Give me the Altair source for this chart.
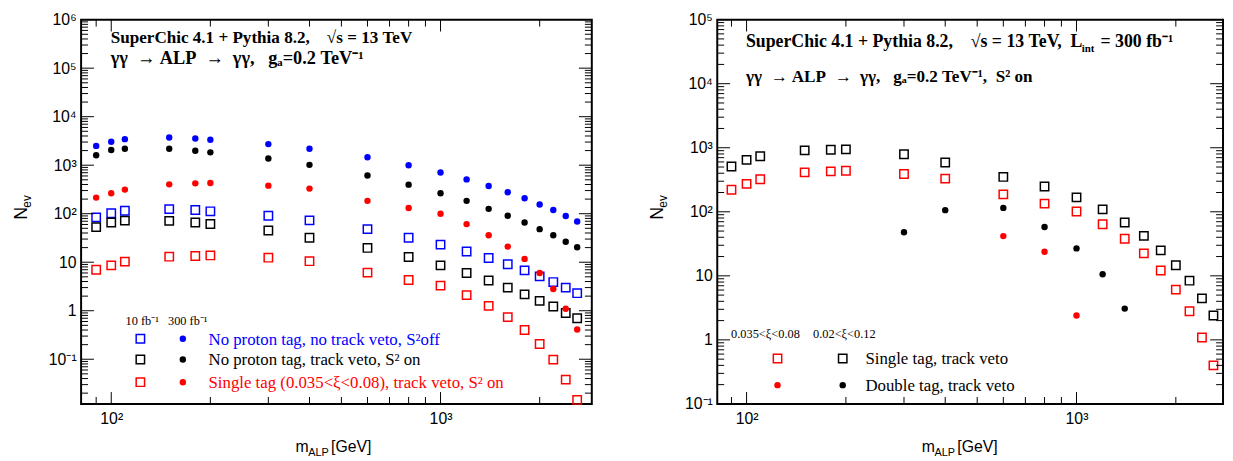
import altair as alt
import pandas as pd

# ---------------- data ----------------
masses = [90, 100, 110, 150, 180, 200, 300, 400, 600, 800, 1000, 1200, 1400, 1600, 1800, 2000, 2200, 2400, 2600]

# left panel: 300 fb^-1 (dots) and 10 fb^-1 (open squares)
noveto_s2off_300 = [2500, 3040, 3440, 3730, 3560, 3340, 2720, 2190, 1456, 1000, 708, 510, 373, 277, 209, 155, 119, 90, 69]
noveto_s2off_10 = [84, 102, 115, 124, 119, 112, 91, 73, 48, 32, 23, 16.6, 12.2, 9.1, 6.8, 5.1, 3.9, 3.0, 2.3]
veto_s2on_300 = [1600, 2050, 2190, 2190, 1990, 1840, 1370, 1016, 615, 397, 264, 184, 126, 91, 66, 48, 36, 26.5, 20.4]
veto_s2on_10 = [53, 66, 72, 71, 66, 61.5, 45, 32, 19.7, 12.8, 8.6, 6.0, 4.2, 3.0, 2.17, 1.6, 1.22, 0.9, 0.70]
single_300 = [215, 264, 314, 403, 422, 429, 379, 329, 184, 131, 100, 61, 36, 21, 11.7, 6.0, 2.8, 1.1, 0.41]
single_10 = [7.0, 8.6, 10.3, 13, 13.4, 13.8, 12.4, 10.5, 6.1, 4.3, 3.3, 2.1, 1.26, 0.74, 0.40, 0.206, 0.098, 0.038, 0.0145]

# right panel (300 fb^-1, S^2 on)
single_narrow = [221, 273, 322, 412, 427, 437, 389, 330, 187, 134, 101, 64, 38, 22.4, 12.1, 6.1, 2.8, 1.09, 0.40]
single_wide = [510, 646, 736, 910, 932, 944, 790, 588, 350, 248, 168, 109, 68, 42, 25, 14.6, 8.4, 4.45, 2.4]
double_wide_masses = [300, 400, 600, 800, 1000, 1200, 1400]
double_wide = [48, 106, 115, 58, 26.8, 10.6, 3.08]
double_narrow_masses = [600, 800, 1000]
double_narrow = [41.7, 23.8, 2.4]

BLUE, BLACK, RED = "#0000ff", "#000000", "#ff0000"
SANS, SERIF = "Liberation Sans", "Liberation Serif"
SQ, DOT = 72, 42
NB = "\u00a0"  # non-breaking space keeps the wide gaps

ONE = pd.DataFrame({"k": [0]})


def series(ms, vals, color, kind):
    return pd.DataFrame({"mass": ms, "N": vals, "col": color, "kind": kind})


left_df = pd.concat([
    series(masses, noveto_s2off_300, BLUE, "dot"),
    series(masses, noveto_s2off_10, BLUE, "sq"),
    series(masses, veto_s2on_300, BLACK, "dot"),
    series(masses, veto_s2on_10, BLACK, "sq"),
    series(masses, single_300, RED, "dot"),
    series(masses, single_10, RED, "sq"),
])
right_df = pd.concat([
    series(masses, single_wide, BLACK, "sq"),
    series(masses, single_narrow, RED, "sq"),
    series(double_wide_masses, double_wide, BLACK, "dot"),
    series(double_narrow_masses, double_narrow, RED, "dot"),
])

SUP = {"-1": "\u207b\u00b9", "2": "\u00b2", "3": "\u00b3", "4": "\u2074", "5": "\u2075", "6": "\u2076"}
y_labels = ["10" + SUP["-1"], "1", "10", "10" + SUP["2"], "10" + SUP["3"], "10" + SUP["4"], "10" + SUP["5"], "10" + SUP["6"]]
x_labels = ["10" + SUP["2"], "10" + SUP["3"]]


def sp(s):
    return s.replace(" ", NB)


def txt(s, x, y, size=16, bold=False, color="black", align="left", baseline="alphabetic", angle=None, font=SERIF):
    kw = dict(align=align, baseline=baseline, font=font, fontSize=size,
              fontWeight="bold" if bold else "normal", color=color)
    if angle is not None:
        kw["angle"] = angle
    return alt.Chart(ONE).mark_text(**kw).encode(x=alt.value(x), y=alt.value(y), text=alt.value(sp(s)))


def sym(x, y, kind, color):
    if kind == "sq":
        m = alt.Chart(ONE).mark_point(shape="square", filled=False, size=SQ, strokeWidth=1.5, color=color, opacity=1)
    else:
        m = alt.Chart(ONE).mark_circle(size=DOT, color=color, opacity=1)
    return m.encode(x=alt.value(x), y=alt.value(y))


def tick_vals(lo, hi):
    major, minor = [], []
    for k in range(-3, 7):
        for m in range(1, 10):
            v = m * 10.0 ** k
            if lo <= v <= hi:
                (major if m == 1 else minor).append(v)
    return major, minor


def panel(df, xdom, ydom, W, H, extras):
    xs = alt.Scale(type="log", domain=xdom)
    ys = alt.Scale(type="log", domain=ydom)
    ymaj, ymin = tick_vals(*ydom)
    xmaj, xmin = tick_vals(*xdom)
    xaxis = alt.Axis(values=xmaj, title=None, ticks=False, domain=False, grid=False,
                     labelFont=SANS, labelFontSize=16, labelColor="black", labelPadding=7,
                     labelFlush=False,
                     labelExpr="datum.value < 500 ? '%s' : '%s'" % tuple(x_labels))
    arr = "[" + ",".join("'%s'" % s for s in y_labels) + "]"
    yaxis = alt.Axis(values=ymaj, title=None, ticks=False, domain=False, grid=False,
                     labelFont=SANS, labelFontSize=16, labelColor="black", labelPadding=5,
                     labelFlush=False, labelOverlap=False,
                     labelExpr=arr + "[round(log(datum.value)/LN10)+1]")
    enc_x = alt.X("mass:Q", scale=xs, axis=xaxis)
    enc_y = alt.Y("N:Q", scale=ys, axis=yaxis)
    sq = alt.Chart(df[df.kind == "sq"]).mark_point(shape="square", filled=False, size=SQ, strokeWidth=1.5, opacity=1).encode(
        x=enc_x, y=enc_y, color=alt.Color("col:N", scale=None))
    dots = alt.Chart(df[df.kind == "dot"]).mark_circle(size=DOT, opacity=1).encode(
        x=alt.X("mass:Q", scale=xs), y=alt.Y("N:Q", scale=ys), color=alt.Color("col:N", scale=None))

    layers = [sq, dots]

    def yt(vals, ln, side):
        x0, x1 = (0, ln) if side == "l" else (W - ln, W)
        return alt.Chart(pd.DataFrame({"v": vals})).mark_rule(color="black", strokeWidth=1).encode(
            y=alt.Y("v:Q", scale=ys), x=alt.value(x0), x2=alt.value(x1))

    def xt(vals, ln, side):
        y0, y1 = (H, H - ln) if side == "b" else (0, ln)
        return alt.Chart(pd.DataFrame({"v": vals})).mark_rule(color="black", strokeWidth=1).encode(
            x=alt.X("v:Q", scale=xs), y=alt.value(y0), y2=alt.value(y1))

    for side in ("l", "r"):
        layers += [yt(ymaj, 13, side), yt(ymin, 7, side)]
    for side in ("b", "t"):
        layers += [xt(xmaj, 12, side), xt(xmin, 7, side)]
    layers += extras
    return alt.layer(*layers).properties(width=W, height=H)


HL, HR = 389, 389
WL, WR = 517, 512
HS = 17.3   # header font size
LS = 17     # legend font size

left_extras = [
    txt("N", -60, 196, size=18, angle=270, baseline="middle", align="center", font=SANS),
    txt("ev", -55, 184, size=12, angle=270, baseline="middle", align="center", font=SANS),
    txt("m", 217, HL + 49, size=16, font=SANS),
    txt("ALP", 230, HL + 53, size=11, font=SANS),
    txt("[GeV]", 253, HL + 49, size=16, font=SANS),
    txt("SuperChic 4.1 + Pythia 8.2,    \u221as = 13 TeV", 30, 24, size=HS, bold=True),
    txt("\u03b3\u03b3  \u2192 ALP  \u2192  \u03b3\u03b3,   g\u2090=0.2 TeV\u207b\u00b9", 30, 45, size=18.5, bold=True),
    txt("10 fb\u207b\u00b9", 45, 309, size=12.5),
    txt("300 fb\u207b\u00b9", 88, 309, size=12.5),
    sym(60, 323, "sq", BLUE), sym(103, 323, "dot", BLUE),
    sym(60, 344, "sq", BLACK), sym(103, 344, "dot", BLACK),
    sym(60, 367, "sq", RED), sym(103, 367, "dot", RED),
    txt("No proton tag, no track veto, S\u00b2off", 129, 329, size=LS, color=BLUE),
    txt("No proton tag, track veto, S\u00b2 on", 129, 350, size=LS, color=BLACK),
    txt("Single tag (0.035<\u03be<0.08), track veto, S\u00b2 on", 129, 373, size=LS, color=RED),
]

right_extras = [
    txt("N", -60, 196, size=18, angle=270, baseline="middle", align="center", font=SANS),
    txt("ev", -55, 184, size=12, angle=270, baseline="middle", align="center", font=SANS),
    txt("m", 207, HR + 49, size=16, font=SANS),
    txt("ALP", 220, HR + 53, size=11, font=SANS),
    txt("[GeV]", 243, HR + 49, size=16, font=SANS),
    txt("SuperChic 4.1 + Pythia 8.2,    \u221as = 13 TeV,  L", 29, 28, size=18, bold=True),
    txt("int", 369, 33, size=11, bold=True),
    txt("= 300 fb\u207b\u00b9", 388, 28, size=18, bold=True),
    txt("\u03b3\u03b3  \u2192 ALP  \u2192  \u03b3\u03b3,   g\u2090=0.2 TeV\u207b\u00b9,  S\u00b2 on", 29, 63, size=HS, bold=True),
    txt("0.035<\u03be<0.08", 14, 322, size=12.5),
    txt("0.02<\u03be<0.12", 97, 322, size=12.5),
    sym(61, 343, "sq", RED), sym(127, 343, "sq", BLACK),
    sym(61, 370, "dot", RED), sym(127, 370, "dot", BLACK),
    txt("Single tag, track veto", 150, 349, size=LS),
    txt("Double tag, track veto", 150, 376, size=LS),
]

left = panel(left_df, [81, 2880], [0.012, 1e6], WL, HL, left_extras)
right = panel(right_df, [81.5, 2780], [0.1, 1e5], WR, HR, right_extras)

chart = alt.hconcat(left, right, spacing=55).properties(
    padding={"left": 4, "top": 0, "right": 0, "bottom": 0}
).configure_view(stroke="black", strokeWidth=2)

chart.save("out.html", embed_options={"renderer": "svg", "actions": False})
